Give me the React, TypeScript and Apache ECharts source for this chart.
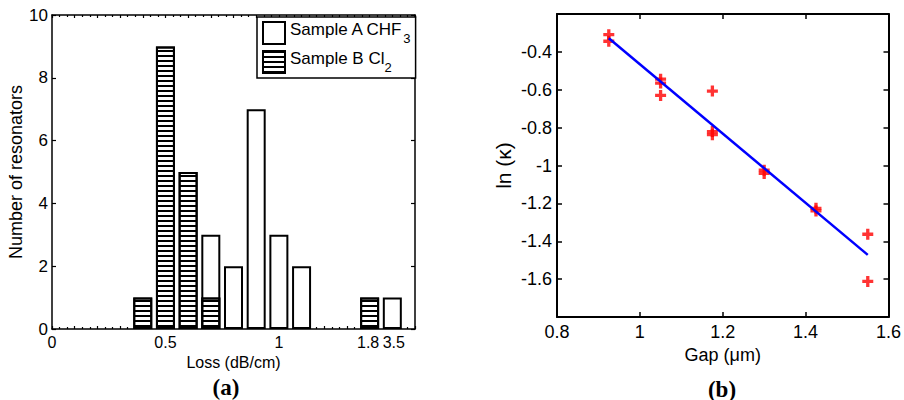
import React, { useEffect, useRef } from "react";
import * as echarts from "echarts";

// ---- Panel (a): loss histogram (x = bin index; labels map bins to loss) ----
const lossTickBins = [0, 5, 10, 14, 15];
const lossTickLabels = ["0", "0.5", "1", "1.8", "3.5"];
const sampleABins = [7, 8, 9, 10, 11, 15];
const sampleACounts = [3, 2, 7, 3, 2, 1];
const sampleBBins = [4, 5, 6, 7, 14];
const sampleBCounts = [1, 9, 5, 1, 1];
const seriesNames = ["Sample A CHF3", "Sample B Cl2"];

// ---- Panel (b): ln(kappa) vs gap ----
const gapUm = [0.925, 0.925, 1.05, 1.05, 1.05, 1.175, 1.175, 1.175, 1.3, 1.3, 1.425, 1.425, 1.55, 1.55];
const lnKappa = [-0.309, -0.344, -0.544, -0.565, -0.63, -0.607, -0.821, -0.837, -1.025, -1.042, -1.226, -1.24, -1.363, -1.612];
const fitGap = [0.925, 1.55];
const fitLnKappa = [-0.328, -1.472];

const SANS = "'Liberation Sans', Arial, sans-serif";
const SERIF = "'Liberation Serif', 'Times New Roman', serif";

export default function App() {
  const ref = useRef<HTMLDivElement>(null);
  useEffect(() => {
    if (!ref.current) return;
    const chart = echarts.init(ref.current, undefined, { renderer: "svg" });

    const axisLine = { show: true, onZero: false, lineStyle: { color: "#000", width: 1.5 } };
    const axisLineB = { show: true, onZero: false, lineStyle: { color: "#000", width: 2 } };
    const tickStyle = { color: "#000", width: 1.2 };

    const lossLabel = (v: number) => {
      const i = lossTickBins.indexOf(Math.round(v));
      if (i < 0) return "";
      if (i === lossTickBins.length - 2) return `{l|${lossTickLabels[i]}}`;
      if (i === lossTickBins.length - 1) return `{r|${lossTickLabels[i]}}`;
      return lossTickLabels[i];
    };
    const numLabel = (v: number) => String(Number(v.toFixed(1)));

    const option: any = {
      animation: false,
      backgroundColor: "#fff",
      grid: [
        { left: 52, top: 15, width: 363, height: 314 },
        { left: 557, top: 14, width: 332, height: 303 },
      ],
      legend: {
        data: seriesNames,
        orient: "vertical",
        left: 257,
        top: 17,
        itemWidth: 22,
        itemHeight: 22,
        itemGap: 5,
        padding: [4, 5, 4, 5],
        icon: "rect",
        borderColor: "#000",
        borderWidth: 1.5,
        backgroundColor: "#fff",
        selectedMode: false,
        formatter: (name: string) =>
          name === seriesNames[0] ? "{n|Sample A CHF}{s|3}" : "{n|Sample B Cl}{s|2}",
        textStyle: {
          color: "#000",
          fontFamily: SANS,
          fontSize: 17,
          rich: {
            n: { fontFamily: SANS, fontSize: 17, color: "#000", verticalAlign: "top" },
            s: { fontFamily: SANS, fontSize: 13, color: "#000", verticalAlign: "top", padding: [11, 0, 0, 0] },
          },
        },
      },
      xAxis: [
        {
          gridIndex: 0,
          type: "value",
          position: "bottom",
          min: 0,
          max: 16,
          interval: 1,
          axisLine,
          axisTick: { inside: true, length: 3, lineStyle: tickStyle },
          minorTick: { show: true, splitNumber: 3, length: 2, lineStyle: tickStyle },
          splitLine: { show: false },
          axisLabel: {
            formatter: lossLabel,
            color: "#000",
            fontFamily: SANS,
            fontSize: 16,
            margin: 5,
            rich: {
              l: { fontFamily: SANS, fontSize: 16, color: "#000", padding: [0, 3, 0, 0] },
              r: { fontFamily: SANS, fontSize: 16, color: "#000", padding: [0, 0, 0, 3] },
            },
          },
          name: "Loss (dB/cm)",
          nameLocation: "middle",
          nameGap: 22,
          nameTextStyle: { color: "#000", fontFamily: SANS, fontSize: 16 },
        },
        {
          gridIndex: 0,
          type: "value",
          position: "top",
          min: 0,
          max: 16,
          interval: 1,
          axisLine,
          axisTick: { inside: true, length: 3, lineStyle: tickStyle },
          minorTick: { show: true, splitNumber: 3, length: 2, lineStyle: tickStyle },
          splitLine: { show: false },
          axisLabel: { show: false },
        },
        {
          gridIndex: 1,
          type: "value",
          position: "bottom",
          min: 0.8,
          max: 1.6,
          interval: 0.2,
          axisLine: axisLineB,
          axisTick: { inside: true, length: 5, lineStyle: { color: "#000", width: 1.5 } },
          splitLine: { show: false },
          axisLabel: { formatter: numLabel, color: "#000", fontFamily: SANS, fontSize: 18, margin: 6 },
          name: "Gap (μm)",
          nameLocation: "middle",
          nameGap: 26,
          nameTextStyle: { color: "#000", fontFamily: SANS, fontSize: 18 },
        },
        {
          gridIndex: 1,
          type: "value",
          position: "top",
          min: 0.8,
          max: 1.6,
          interval: 0.2,
          axisLine: axisLineB,
          axisTick: { inside: true, length: 5, lineStyle: { color: "#000", width: 1.5 } },
          splitLine: { show: false },
          axisLabel: { show: false },
        },
      ],
      yAxis: [
        {
          gridIndex: 0,
          type: "value",
          position: "left",
          min: 0,
          max: 10,
          interval: 2,
          axisLine,
          axisTick: { inside: true, length: 4, lineStyle: tickStyle },
          splitLine: { show: false },
          axisLabel: { color: "#000", fontFamily: SANS, fontSize: 17, margin: 4 },
          name: "Number of resonators",
          nameLocation: "middle",
          nameGap: 27,
          nameTextStyle: { color: "#000", fontFamily: SANS, fontSize: 18 },
        },
        {
          gridIndex: 0,
          type: "value",
          position: "right",
          min: 0,
          max: 10,
          interval: 2,
          axisLine,
          axisTick: { inside: true, length: 4, lineStyle: tickStyle },
          splitLine: { show: false },
          axisLabel: { show: false },
        },
        {
          gridIndex: 1,
          type: "value",
          position: "left",
          min: -1.8,
          max: -0.2,
          interval: 0.2,
          axisLine: axisLineB,
          axisTick: { inside: true, length: 5, lineStyle: { color: "#000", width: 1.5 } },
          splitLine: { show: false },
          axisLabel: {
            formatter: (v: number) => (Math.abs(v + 1.8) < 1e-6 || Math.abs(v + 0.2) < 1e-6 ? "" : numLabel(v)),
            color: "#000",
            fontFamily: SANS,
            fontSize: 18,
            margin: 5,
          },
          name: "ln (κ)",
          nameLocation: "middle",
          nameGap: 43,
          nameTextStyle: { color: "#000", fontFamily: SANS, fontSize: 21 },
        },
        {
          gridIndex: 1,
          type: "value",
          position: "right",
          min: -1.8,
          max: -0.2,
          interval: 0.2,
          axisLine: axisLineB,
          axisTick: { inside: true, length: 5, lineStyle: { color: "#000", width: 1.5 } },
          splitLine: { show: false },
          axisLabel: { show: false },
        },
      ],
      series: [
        {
          type: "bar",
          name: seriesNames[0],
          xAxisIndex: 0,
          yAxisIndex: 0,
          barWidth: 19,
          barGap: "-100%",
          data: sampleABins.map((b, i) => [b, sampleACounts[i]]),
          itemStyle: { color: "#fff", borderColor: "#000", borderWidth: 2 },
        },
        {
          type: "bar",
          name: seriesNames[1],
          xAxisIndex: 0,
          yAxisIndex: 0,
          barWidth: 19,
          barGap: "-100%",
          data: sampleBBins.map((b, i) => [b, sampleBCounts[i]]),
          itemStyle: {
            color: "#fff",
            borderColor: "#000",
            borderWidth: 2,
            decal: {
              symbol: "rect",
              symbolSize: 1,
              color: "#000",
              dashArrayX: [1, 0],
              dashArrayY: [2, 3],
              rotation: 0,
            },
          },
        },
        {
          type: "line",
          name: "fit",
          xAxisIndex: 2,
          yAxisIndex: 2,
          data: fitGap.map((g, i) => [g, fitLnKappa[i]]),
          symbol: "none",
          lineStyle: { color: "#0000ff", width: 2.5 },
        },
        {
          type: "scatter",
          name: "data",
          xAxisIndex: 2,
          yAxisIndex: 2,
          data: gapUm.map((g, i) => [g, lnKappa[i]]),
          symbol: "path://M3.5,0H6.5V3.5H10V6.5H6.5V10H3.5V6.5H0V3.5H3.5Z",
          symbolSize: 11,
          itemStyle: { color: "#ff0000" },
        },
      ],
      graphic: [
        {
          type: "text",
          x: 226,
          y: 387,
          style: {
            text: "(a)",
            font: `bold 23px ${SERIF}`,
            fill: "#000",
            align: "center",
            verticalAlign: "middle",
            textAlign: "center",
            textVerticalAlign: "middle",
          },
        },
        {
          type: "text",
          x: 722,
          y: 389,
          style: {
            text: "(b)",
            font: `bold 23px ${SERIF}`,
            fill: "#000",
            align: "center",
            verticalAlign: "middle",
            textAlign: "center",
            textVerticalAlign: "middle",
          },
        },
      ],
    };

    chart.setOption(option);
    return () => chart.dispose();
  }, []);

  return (
    <div
      ref={ref}
      style={{ position: "fixed", left: 0, top: 0, width: 904, height: 400, background: "#fff" }}
    />
  );
}
